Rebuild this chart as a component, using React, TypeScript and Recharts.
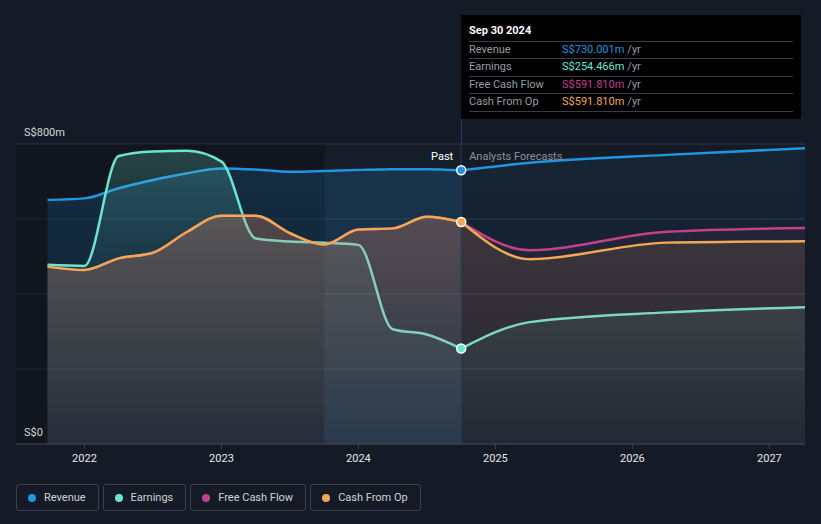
import React from 'react';
import {
  ComposedChart, Area, XAxis, YAxis, CartesianGrid, ReferenceArea, ReferenceLine, ReferenceDot,
} from 'recharts';

// time in decimal years; past is quarterly, forecasts yearly
const pastYears = [2021.73, 2022, 2022.25, 2022.5, 2022.75, 2023, 2023.25, 2023.5, 2023.75, 2024, 2024.25, 2024.5, 2024.75];
const forecastYears = [2024.75, 2025.25, 2026.25, 2027.26];

const revenuePast = [651, 655, 682, 704, 722, 735, 732, 726, 728, 731, 733, 733, 730.001];
const earningsPast = [478, 475, 768, 780, 782, 753, 548, 540, 537, 531, 306, 292, 254.466];
const fcfPast = [473, 464, 495, 510, 566, 609, 609, 562, 532, 572, 575, 606, 591.81];
const cfoPast = [473, 464, 495, 510, 566, 609, 609, 562, 532, 572, 575, 606, 591.81];

const revenueForecast = [730.001, 750, 771, 789];
const earningsForecast = [254.466, 325, 351, 365];
const fcfForecast = [591.81, 517, 566, 576];
const cfoForecast = [591.81, 493, 537, 541];

const xTicks = [2022, 2023, 2024, 2025, 2026, 2027];
const yTicks = [0, 200, 400, 600, 800];
const yLabels: Record<number, string> = { 0: 'S$0', 800: 'S$800m' };

const C = {
  revenue: '#2394df',
  earnings: '#6ce5d0',
  fcf: '#c2418a',
  cfo: '#f0a855',
};

const rows: any[] = pastYears.map((t, i) => ({
  t,
  revP: revenuePast[i],
  earnP: earningsPast[i],
  fcfP: fcfPast[i],
  cfoP: cfoPast[i],
}));
forecastYears.forEach((t, i) => {
  let row = rows.find((r) => r.t === t);
  if (!row) {
    row = { t };
    rows.push(row);
  }
  row.revF = revenueForecast[i];
  row.earnF = earningsForecast[i];
  row.fcfF = fcfForecast[i];
  row.cfoF = cfoForecast[i];
});

const tooltipRows = [
  { label: 'Revenue', value: 'S$730.001m', color: C.revenue },
  { label: 'Earnings', value: 'S$254.466m', color: C.earnings },
  { label: 'Free Cash Flow', value: 'S$591.810m', color: C.fcf },
  { label: 'Cash From Op', value: 'S$591.810m', color: C.cfo },
];

const legendItems = [
  { label: 'Revenue', color: C.revenue },
  { label: 'Earnings', color: C.earnings },
  { label: 'Free Cash Flow', color: C.fcf },
  { label: 'Cash From Op', color: C.cfo },
];

const font = 'Roboto, "Noto Sans", sans-serif';

function renderYTick(props: any) {
  const { y, payload } = props;
  const text = yLabels[payload.value];
  if (!text) return <g />;
  return (
    <text x={24} y={y - 12} dy="0.35em" fill="#d5d7da" fontSize={11} fontFamily={font}>
      {text}
    </text>
  );
}

function PastLabel(props: any) {
  const { viewBox } = props;
  const x = viewBox.x;
  const y = viewBox.y + 12;
  return (
    <g fontFamily={font} fontSize={11}>
      <text x={x - 8} y={y} dy="0.35em" textAnchor="end" fill="#ffffff">Past</text>
      <text x={x + 8} y={y} dy="0.35em" textAnchor="start" fill="#8a8f98">Analysts Forecasts</text>
    </g>
  );
}

function grad(id: string, color: string, top: number, bottom: number, mid?: number) {
  return (
    <linearGradient id={id} x1="0" y1="0" x2="0" y2="1">
      <stop offset="0%" stopColor={color} stopOpacity={top} />
      {mid !== undefined && <stop offset="35%" stopColor={color} stopOpacity={mid} />}
      <stop offset="100%" stopColor={color} stopOpacity={bottom} />
    </linearGradient>
  );
}

export default function App() {
  return (
    <div style={{ position: 'absolute', left: 0, top: 0, width: 821, height: 524, background: '#151b26', fontFamily: font, overflow: 'hidden' }}>
      <ComposedChart width={821} height={475} data={rows} margin={{ top: 144, right: 16, bottom: 0, left: 15 }}>
        <defs>
          {grad('gRevP', C.revenue, 0.3, 0.16)}
          {grad('gEarnP', C.earnings, 0.38, 0.05, 0.15)}
          {grad('gFcfP', C.fcf, 0.2, 0.06)}
          {grad('gCfoP', C.cfo, 0.34, 0.08)}
          {grad('gRevF', C.revenue, 0.12, 0.06)}
          {grad('gEarnF', C.earnings, 0.16, 0.04)}
          {grad('gFcfF', C.fcf, 0.12, 0.04)}
          {grad('gCfoF', C.cfo, 0.22, 0.05)}
          {grad('gBand', C.revenue, 0.03, 0.13)}
        </defs>
        <ReferenceArea x1={2021.5} x2={2023.75} y1={0} y2={800} fill="#0a0d13" fillOpacity={0.4} stroke="none" ifOverflow="hidden" />
        <ReferenceArea x1={2023.75} x2={2024.75} y1={0} y2={800} fill="url(#gBand)" stroke="none" />
        <XAxis
          type="number"
          dataKey="t"
          domain={[2021.5, 2027.26]}
          allowDataOverflow
          ticks={xTicks}
          tickFormatter={(v) => String(v)}
          tick={{ fill: '#e6e7e9', fontSize: 11, fontFamily: font }}
          tickLine={{ stroke: '#3d434d' }}
          tickSize={5}
          tickMargin={5}
          axisLine={{ stroke: '#3d434d' }}
          height={31}
        />
        <YAxis domain={[0, 800]} ticks={yTicks} width={1} axisLine={false} tickLine={false} tick={renderYTick} allowDataOverflow />

        <Area type="monotone" dataKey="revP" stroke={C.revenue} strokeWidth={2.5} fill="url(#gRevP)" isAnimationActive={false} dot={false} activeDot={false} />
        <Area type="monotone" dataKey="earnP" stroke={C.earnings} strokeWidth={2.5} fill="url(#gEarnP)" isAnimationActive={false} dot={false} activeDot={false} />
        <Area type="monotone" dataKey="fcfP" stroke={C.fcf} strokeWidth={2.5} fill="url(#gFcfP)" isAnimationActive={false} dot={false} activeDot={false} />
        <Area type="monotone" dataKey="cfoP" stroke={C.cfo} strokeWidth={2.5} fill="url(#gCfoP)" isAnimationActive={false} dot={false} activeDot={false} />

        <Area type="monotone" dataKey="revF" stroke={C.revenue} strokeWidth={2.5} fill="url(#gRevF)" isAnimationActive={false} dot={false} activeDot={false} />
        <Area type="monotone" dataKey="earnF" stroke={C.earnings} strokeWidth={2.5} fill="url(#gEarnF)" isAnimationActive={false} dot={false} activeDot={false} />
        <Area type="monotone" dataKey="fcfF" stroke={C.fcf} strokeWidth={2.5} fill="url(#gFcfF)" isAnimationActive={false} dot={false} activeDot={false} />
        <Area type="monotone" dataKey="cfoF" stroke={C.cfo} strokeWidth={2.5} fill="url(#gCfoF)" isAnimationActive={false} dot={false} activeDot={false} />

        <CartesianGrid vertical={false} stroke="#ffffff" strokeOpacity={0.12} strokeWidth={1} />

        <ReferenceLine x={2024.75} stroke="#23405e" strokeWidth={1} label={<PastLabel />} />
        <ReferenceDot x={2024.75} y={revenuePast[12]} r={4.5} fill={C.revenue} stroke="#ffffff" strokeWidth={1.5} />
        <ReferenceDot x={2024.75} y={cfoPast[12]} r={4.5} fill={C.cfo} stroke="#ffffff" strokeWidth={1.5} />
        <ReferenceDot x={2024.75} y={earningsPast[12]} r={4.5} fill={C.earnings} stroke="#ffffff" strokeWidth={1.5} />
      </ComposedChart>

      {/* vertical marker continuing up to the tooltip box */}
      <div style={{ position: 'absolute', left: 461, top: 15, width: 1, height: 130, background: '#23405e' }} />

      <div style={{ position: 'absolute', left: 461, top: 15, width: 340, height: 104, background: '#000000', boxSizing: 'border-box', padding: '0 8px' }}>
        <div style={{ color: '#ffffff', fontSize: 11, fontWeight: 'bold', height: 26, lineHeight: '32px', borderBottom: '1px solid #3a3d44' }}>
          Sep 30 2024
        </div>
        {tooltipRows.map((r) => (
          <div key={r.label} style={{ display: 'flex', height: 16.4, lineHeight: '16px', fontSize: 11, borderBottom: '1px solid #3a3d44' }}>
            <span style={{ width: 93, color: '#9a9ca1' }}>{r.label}</span>
            <span style={{ color: r.color }}>{r.value}</span>
            <span style={{ color: '#9a9ca1', marginLeft: 3 }}>/yr</span>
          </div>
        ))}
      </div>

      <div style={{ position: 'absolute', left: 16, top: 484, display: 'flex', gap: 4 }}>
        {legendItems.map((it) => (
          <div key={it.label} style={{ height: 27, boxSizing: 'border-box', border: '1px solid #3a3f4a', borderRadius: 3, display: 'flex', alignItems: 'center', padding: '0 12px 0 11px', fontSize: 11, color: '#d0d2d6' }}>
            <span style={{ width: 8, height: 8, borderRadius: '50%', background: it.color, marginRight: 8, display: 'inline-block' }} />
            {it.label}
          </div>
        ))}
      </div>
    </div>
  );
}
